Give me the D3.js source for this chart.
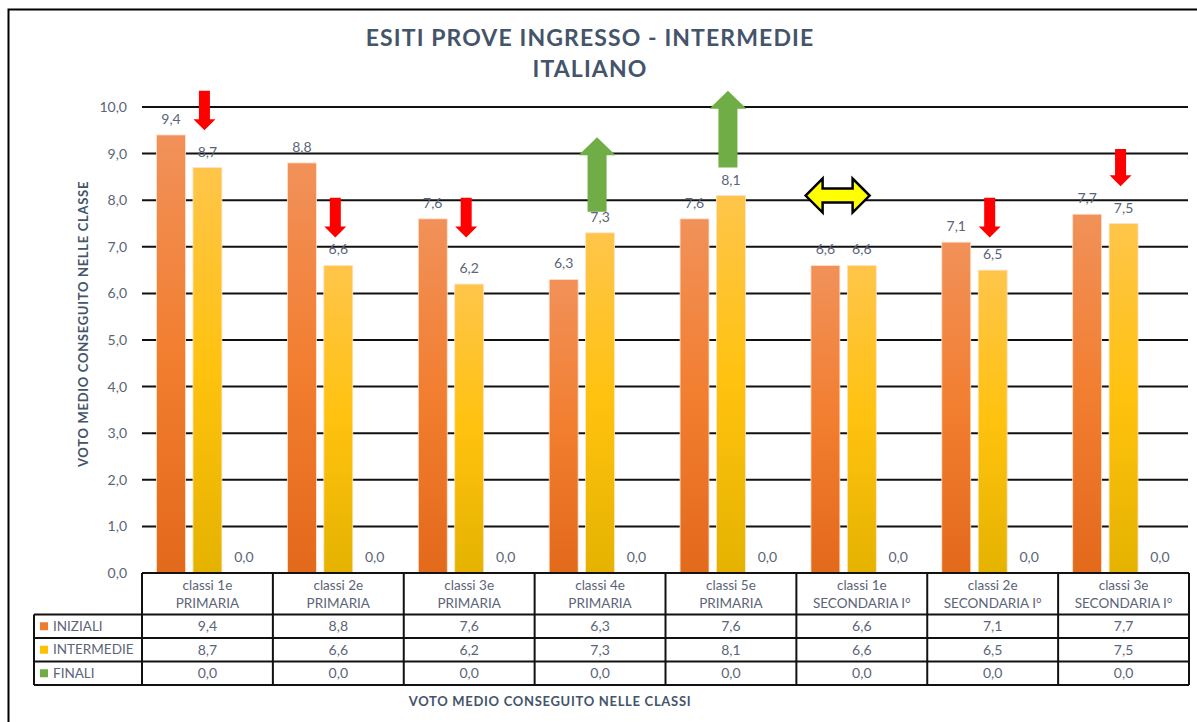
<!DOCTYPE html>
<html>
<head>
<meta charset="utf-8">
<script src="https://cdn.jsdelivr.net/npm/d3@7"></script>
<style>
  body { margin: 0; background: #fff; }
  svg { display: block; font-family: Lato, "Open Sans", sans-serif; }
</style>
</head>
<body>
<div id="chart"></div>
<script>
// categories (two lines each) and the three series
var catLine1 = ["classi 1e", "classi 2e", "classi 3e", "classi 4e", "classi 5e", "classi 1e", "classi 2e", "classi 3e"];
var catLine2 = ["PRIMARIA", "PRIMARIA", "PRIMARIA", "PRIMARIA", "PRIMARIA", "SECONDARIA I°", "SECONDARIA I°", "SECONDARIA I°"];
var seriesNames = ["INIZIALI", "INTERMEDIE", "FINALI"];
var iniziali = [9.4, 8.8, 7.6, 6.3, 7.6, 6.6, 7.1, 7.7];
var intermedie = [8.7, 6.6, 6.2, 7.3, 8.1, 6.6, 6.5, 7.5];
var finali = [0, 0, 0, 0, 0, 0, 0, 0];
var yTicks = [0, 1, 2, 3, 4, 5, 6, 7, 8, 9, 10];

// arrows drawn on top (trend markers), in data units
var arrowCat = [0, 1, 2, 3, 4, 5, 6, 7];
var arrowKind = ["down", "down", "down", "up", "up", "both", "down", "down"];
var arrowFrom = [10.35, 8.05, 8.05, 7.75, 8.7, 8.1, 8.05, 9.1];
var arrowTo = [9.5, 7.2, 7.2, 9.35, 10.35, 8.1, 7.2, 8.3];

var W = 1197, H = 722;
var textCol = "#5b6478", titleCol = "#44546a";
var keyCols = ["#ed7d31", "#ffc000", "#70ad47"];

var svg = d3.select("#chart").append("svg").attr("width", W).attr("height", H);

// gradients for bars
var defs = svg.append("defs");
function grad(id, stops) {
  var g = defs.append("linearGradient").attr("id", id)
    .attr("x1", 0).attr("y1", 0).attr("x2", 0).attr("y2", 1);
  stops.forEach(function (s) {
    g.append("stop").attr("offset", s[0]).attr("stop-color", s[1]);
  });
}
grad("gOrange", [[0, "#f19159"], [0.5, "#f27e30"], [1, "#e3691b"]]);
grad("gYellow", [[0, "#ffc54a"], [0.5, "#ffc20e"], [1, "#e4b300"]]);
grad("gGreen", [[0, "#8cc26a"], [0.5, "#70ad47"], [1, "#5e9a38"]]);
var fills = ["url(#gOrange)", "url(#gYellow)", "url(#gGreen)"];

// outer border
svg.append("rect").attr("x", 8.5).attr("y", 9.5).attr("width", 1400).attr("height", 900)
  .attr("fill", "none").attr("stroke", "#000").attr("stroke-width", 2);

var cats = d3.range(catLine1.length);
var x0 = d3.scaleBand().domain(cats).range([142, 1189]);
var x1 = d3.scaleBand().domain(seriesNames).range([0, x0.bandwidth()])
  .paddingInner(0.205).paddingOuter(0.4);
var y = d3.scaleLinear().domain([0, 10]).range([573, 107]);
var fmt = function (v) { return d3.format(".1f")(v).replace(".", ","); };

// gridlines
svg.append("g").selectAll("line").data(yTicks.slice(1)).enter().append("line")
  .attr("x1", 142).attr("x2", 1188)
  .attr("y1", function (d) { return y(d); }).attr("y2", function (d) { return y(d); })
  .attr("stroke", "#111").attr("stroke-width", 2);

// y tick labels
svg.append("g").selectAll("text").data(yTicks).enter().append("text")
  .attr("x", 127).attr("y", function (d) { return y(d); })
  .attr("dy", "0.35em").attr("text-anchor", "end")
  .attr("font-size", 14).attr("fill", textCol).text(fmt);

// bars
var table = cats.map(function (i) { return [iniziali[i], intermedie[i], finali[i]]; });
var groups = svg.append("g").selectAll("g").data(table).enter().append("g")
  .attr("transform", function (d, i) { return "translate(" + x0(i) + ",0)"; });

groups.selectAll("rect").data(function (d) { return d; }).enter().append("rect")
  .attr("x", function (d, j) { return x1(seriesNames[j]); })
  .attr("width", x1.bandwidth())
  .attr("y", function (d) { return y(d); })
  .attr("height", function (d) { return y(0) - y(d); })
  .attr("fill", function (d, j) { return fills[j]; })
  .attr("stroke", "#fde3cc").attr("stroke-width", 0.8);

groups.selectAll("text").data(function (d) { return d; }).enter().append("text")
  .attr("x", function (d, j) { return x1(seriesNames[j]) + x1.bandwidth() / 2; })
  .attr("y", function (d) { return y(d) - 11; })
  .attr("text-anchor", "middle").attr("font-size", 14).attr("fill", textCol)
  .text(fmt);

// arrows
function arrowPath(k) {
  var kind = arrowKind[k], c = arrowCat[k];
  var cx;
  if (kind === "both") {
    cx = x0(c) + (x1("INIZIALI") + x1("INTERMEDIE") + x1.bandwidth()) / 2 - 6;
  } else {
    cx = x0(c) + x1("INTERMEDIE") + x1.bandwidth() / 2 - 3;
  }
  var p = d3.path();
  if (kind === "down") {
    var t = y(arrowFrom[k]), b = y(arrowTo[k]), hs = 5.5, hh = 11, hl = 11;
    p.moveTo(cx - hs, t); p.lineTo(cx + hs, t); p.lineTo(cx + hs, b - hl);
    p.lineTo(cx + hh, b - hl); p.lineTo(cx, b); p.lineTo(cx - hh, b - hl);
    p.lineTo(cx - hs, b - hl); p.closePath();
  } else if (kind === "up") {
    var bb = y(arrowFrom[k]), tt = y(arrowTo[k]), s = 9.5, h = 18.5, l = 18;
    p.moveTo(cx - s, bb); p.lineTo(cx + s, bb); p.lineTo(cx + s, tt + l);
    p.lineTo(cx + h, tt + l); p.lineTo(cx, tt); p.lineTo(cx - h, tt + l);
    p.lineTo(cx - s, tt + l); p.closePath();
  } else {
    var cy = y(arrowFrom[k]), half = 32, sh = 7, hd = 17, hl2 = 17;
    p.moveTo(cx - half, cy); p.lineTo(cx - half + hl2, cy - hd);
    p.lineTo(cx - half + hl2, cy - sh); p.lineTo(cx + half - hl2, cy - sh);
    p.lineTo(cx + half - hl2, cy - hd); p.lineTo(cx + half, cy);
    p.lineTo(cx + half - hl2, cy + hd); p.lineTo(cx + half - hl2, cy + sh);
    p.lineTo(cx - half + hl2, cy + sh); p.lineTo(cx - half + hl2, cy + hd);
    p.closePath();
  }
  return p.toString();
}
svg.append("g").selectAll("path").data(d3.range(arrowCat.length)).enter().append("path")
  .attr("d", arrowPath)
  .attr("fill", function (k) {
    return arrowKind[k] === "down" ? "#ff0000" : arrowKind[k] === "up" ? "#70ad47" : "#ffff00";
  })
  .attr("stroke", function (k) { return arrowKind[k] === "both" ? "#000" : "none"; })
  .attr("stroke-width", 2.5).attr("stroke-linejoin", "miter");

// data table under the chart
var tY = 573, hdrH = 41.5, rowH = 23.5, legX = 34;
var tbl = svg.append("g");
var line = function (xa, ya, xb, yb) {
  tbl.append("line").attr("x1", xa).attr("y1", ya).attr("x2", xb).attr("y2", yb)
    .attr("stroke", "#111").attr("stroke-width", 2);
};
var bottom = tY + hdrH + rowH * 3;
line(142, tY, 1189, tY);
line(legX, tY + hdrH, 1189, tY + hdrH);
for (var r = 1; r <= 3; r++) line(legX, tY + hdrH + rowH * r, 1189, tY + hdrH + rowH * r);
line(legX, tY + hdrH, legX, bottom);
cats.forEach(function (i) { line(x0(i), tY, x0(i), bottom); });
line(1189, tY, 1189, bottom);

var hdr = tbl.append("g").selectAll("text").data(cats).enter().append("text")
  .attr("text-anchor", "middle").attr("font-size", 13.5).attr("fill", textCol);
hdr.append("tspan").attr("x", function (i) { return x0(i) + x0.bandwidth() / 2; })
  .attr("y", tY + 16.5).text(function (i) { return catLine1[i]; });
hdr.append("tspan").attr("x", function (i) { return x0(i) + x0.bandwidth() / 2; })
  .attr("y", tY + 34.5).text(function (i) { return catLine2[i]; });

var seriesData = [iniziali, intermedie, finali];
seriesData.forEach(function (arr, j) {
  var cy = tY + hdrH + rowH * j + rowH / 2;
  tbl.append("rect").attr("x", 40).attr("y", cy - 4).attr("width", 8).attr("height", 8)
    .attr("fill", keyCols[j]);
  tbl.append("text").attr("x", 53).attr("y", cy).attr("dy", "0.35em")
    .attr("font-size", 13.5).attr("fill", textCol).text(seriesNames[j]);
  tbl.append("g").selectAll("text").data(arr).enter().append("text")
    .attr("x", function (d, i) { return x0(i) + x0.bandwidth() / 2; })
    .attr("y", cy).attr("dy", "0.35em").attr("text-anchor", "middle")
    .attr("font-size", 14).attr("fill", textCol).text(fmt);
});

// titles
svg.append("text").attr("x", 590).attr("y", 46).attr("text-anchor", "middle")
  .attr("font-size", 23).attr("font-weight", "bold").attr("fill", titleCol)
  .attr("letter-spacing", 1.1)
  .text("ESITI PROVE INGRESSO - INTERMEDIE");
svg.append("text").attr("x", 590).attr("y", 77).attr("text-anchor", "middle")
  .attr("font-size", 23).attr("font-weight", "bold").attr("fill", titleCol)
  .attr("letter-spacing", 1.1)
  .text("ITALIANO");
svg.append("text").attr("transform", "translate(88,324) rotate(-90)")
  .attr("text-anchor", "middle").attr("font-size", 13).attr("font-weight", "bold")
  .attr("fill", titleCol).attr("letter-spacing", 0.7)
  .text("VOTO MEDIO CONSEGUITO NELLE CLASSE");
svg.append("text").attr("x", 550).attr("y", 706).attr("text-anchor", "middle")
  .attr("font-size", 13).attr("font-weight", "bold").attr("fill", titleCol)
  .attr("letter-spacing", 0.7)
  .text("VOTO MEDIO CONSEGUITO NELLE CLASSI");
</script>
</body>
</html>
